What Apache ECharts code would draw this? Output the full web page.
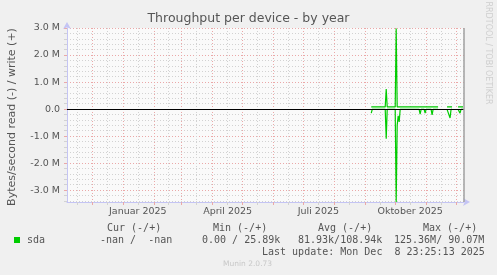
<!DOCTYPE html>
<html>
<head>
<meta charset="utf-8">
<script src="https://cdn.jsdelivr.net/npm/echarts@6/dist/echarts.min.js"></script>
<style>
html,body{margin:0;padding:0;background:#f0f0f0;}
#c{width:497px;height:275px;}
</style>
</head>
<body>
<div id="c"></div>
<script>
// ---- data ----
const rangeStart = '2024-11-06';
const rangeEnd = '2025-12-08 23:25:13';
const dates = ['2025-09-07','2025-09-08','2025-09-21','2025-09-22','2025-09-23','2025-10-01','2025-10-02','2025-10-03','2025-10-04','2025-10-05','2025-10-06','2025-10-25','2025-10-26','2025-10-27','2025-10-30','2025-10-31','2025-11-01','2025-11-06','2025-11-07','2025-11-08','2025-11-13','2025-11-14','2025-11-22','2025-11-24','2025-11-25','2025-11-26','2025-11-27','2025-11-28','2025-12-03','2025-12-04','2025-12-05','2025-12-06','2025-12-08'];
// write (+), MB/s
const writeM = [0.08,0.08,0.08,0.74,0.08,0.08,2.98,0.08,0.08,0.08,0.08,0.08,0.08,0.08,0.08,0.08,0.08,0.08,0.15,0.08,0.08,null,0.08,0.08,0.08,0.08,0.08,null,0.08,0.08,0.08,0.08,0.08];
// read (-), MB/s magnitude
const readM = [0.15,0.01,0.01,1.1,0.01,0.01,3.44,0.6,0.25,0.48,0.01,0.01,0.19,0.01,0.01,0.15,0.01,0.01,0.22,0.01,0.01,null,0.01,0.01,0.33,0.01,0.01,null,0.01,0.01,0.15,0.01,0.01];
const monthStarts = ['2024-12-01','2025-01-01','2025-02-01','2025-03-01','2025-04-01','2025-05-01','2025-06-01','2025-07-01','2025-08-01','2025-09-01','2025-10-01','2025-11-01','2025-12-01'];
const midMonths = ['2024-11-16','2024-12-16','2025-01-16','2025-02-16','2025-03-16','2025-04-16','2025-05-16','2025-06-16','2025-07-16','2025-08-16','2025-09-16','2025-10-16','2025-11-16'];
const xLabelDates = ['2025-01-16','2025-04-16','2025-07-16','2025-10-16'];
const xTickLabels = ['Januar 2025','April 2025','Juli 2025','Oktober 2025'];
const yMajor = [-3,-2,-1,0,1,2,3];
const yMinor = [-3.4,-3.2,-2.8,-2.6,-2.4,-2.2,-1.8,-1.6,-1.4,-1.2,-0.8,-0.6,-0.4,-0.2,0.2,0.4,0.6,0.8,1.2,1.4,1.6,1.8,2.2,2.4,2.6,2.8];
const yMin = -3.44, yMax = 3.0;
const legendRow = {name:'sda', cur:'-nan /  -nan', min:'0.00 / 25.89k', avg:'81.93k/108.94k', max:'125.36M/ 90.07M'};

// ---- chart ----
const T = s => echarts.time.parse(s).getTime();
const M = 1e6;
const tMin = T(rangeStart), tMax = T(rangeEnd);
const writeData = dates.map((d,i)=>[T(d), writeM[i]==null?null:writeM[i]*M]);
const readData = dates.map((d,i)=>[T(d), readM[i]==null?null:-readM[i]*M]);
const labelMap = {};
xLabelDates.forEach((d,i)=>{labelMap[T(d)] = xTickLabels[i];});

const font = 'DejaVu Sans';
const axisBlue = '#c4c4f4';
const majorCol = '#eaa8a8';
const minorCol = '#d2d2d2';
const txt = '#555';

function xAx(extra){
  return Object.assign({type:'value', min:tMin, max:tMax, position:'bottom', scale:true,
    axisLine:{show:false,onZero:false}, axisLabel:{show:false}, axisTick:{show:false}, splitLine:{show:false}}, extra);
}
function yAx(extra){
  return Object.assign({type:'value', min:yMin*M, max:yMax*M, position:'left',
    axisLine:{show:false,onZero:false}, axisLabel:{show:false}, axisTick:{show:false}, splitLine:{show:false}}, extra);
}

const chart = echarts.init(document.getElementById('c'), null, {renderer:'canvas'});
chart.setOption({
  animation:false,
  backgroundColor:'#f0f0f0',
  grid:{left:67,right:33,top:28,bottom:73,show:true,backgroundColor:'#fafafa',borderWidth:0},
  xAxis:[
    xAx({axisTick:{show:true,length:3,customValues:midMonths.map(T),lineStyle:{color:minorCol}},
         splitLine:{show:true,lineStyle:{color:minorCol,type:[1,2],width:1}}}),
    xAx({axisTick:{show:true,length:3,customValues:monthStarts.map(T),lineStyle:{color:majorCol}},
         splitLine:{show:true,lineStyle:{color:majorCol,type:[1,2],width:1}},
         axisLine:{show:true,onZero:false,symbol:['none','arrow'],symbolSize:[6,7],symbolOffset:[0,6],lineStyle:{color:axisBlue,width:1}}}),
    xAx({axisLabel:{show:true,customValues:xLabelDates.map(T),margin:5,color:txt,fontFamily:font,fontSize:9.5,
         formatter:(v)=>labelMap[v]||''}})
  ],
  yAxis:[
    yAx({axisTick:{show:true,length:3,customValues:yMinor.map(v=>v*M),lineStyle:{color:minorCol}},
         splitLine:{show:true,lineStyle:{color:minorCol,type:[1,2],width:1}}}),
    yAx({axisTick:{show:true,length:3,customValues:yMajor.map(v=>v*M),lineStyle:{color:majorCol}},
         splitLine:{show:true,lineStyle:{color:majorCol,type:[1,2],width:1}},
         axisLabel:{show:true,customValues:yMajor.map(v=>v*M),margin:7,color:txt,fontFamily:font,fontSize:9.5,
           formatter:(v)=> Math.abs(v)<1 ? '0.0' : (v/M).toFixed(1)+' M'},
         axisLine:{show:true,onZero:false,symbol:['none','arrow'],symbolSize:[6,7],symbolOffset:[0,6],lineStyle:{color:axisBlue,width:1}}})
  ],
  series:[
    {type:'line', name:legendRow.name, xAxisIndex:0, yAxisIndex:0, data:readData, showSymbol:false, connectNulls:false,
     lineStyle:{color:'#00cc00',width:1.2}, itemStyle:{color:'#00cc00'}, z:3},
    {type:'line', name:legendRow.name, xAxisIndex:0, yAxisIndex:0, data:writeData, showSymbol:false, connectNulls:false,
     lineStyle:{color:'#00cc00',width:1.2}, itemStyle:{color:'#00cc00'}, z:3,
     markLine:{silent:true, symbol:['none','none'], label:{show:false}, animation:false,
       data:[{yAxis:0, lineStyle:{color:'#000',width:1,type:'solid'}},
             {xAxis:tMax, lineStyle:{color:'#a0a0a0',width:1.5,type:'solid'}}]}}
  ],
  graphic:[
    {type:'text', left:'center', top:12, style:{text:'Throughput per device - by year', fill:txt, font:'12.5px "DejaVu Sans"'}},
    {type:'text', x:12, y:117, rotation:Math.PI/2, style:{text:'Bytes/second read (-) / write (+)', fill:txt, font:'11px "DejaVu Sans"', align:'center', verticalAlign:'middle'}},
    {type:'text', x:488, y:53, rotation:-Math.PI/2, style:{text:'RRDTOOL / TOBI OETIKER', fill:'#cfcfcf', font:'8px "DejaVu Sans"', align:'center', verticalAlign:'middle'}},
    {type:'text', x:107, y:228, style:{text:'Cur (-/+)', fill:txt, font:'10px "DejaVu Sans Mono"', verticalAlign:'middle'}},
    {type:'text', x:213, y:228, style:{text:'Min (-/+)', fill:txt, font:'10px "DejaVu Sans Mono"', verticalAlign:'middle'}},
    {type:'text', x:318, y:228, style:{text:'Avg (-/+)', fill:txt, font:'10px "DejaVu Sans Mono"', verticalAlign:'middle'}},
    {type:'text', x:423, y:228, style:{text:'Max (-/+)', fill:txt, font:'10px "DejaVu Sans Mono"', verticalAlign:'middle'}},
    {type:'rect', shape:{x:14,y:237,width:6,height:6}, style:{fill:'#00cc00'}},
    {type:'text', x:27, y:240, style:{text:legendRow.name, fill:txt, font:'10px "DejaVu Sans Mono"', verticalAlign:'middle'}},
    {type:'text', x:100, y:240, style:{text:legendRow.cur, fill:txt, font:'10px "DejaVu Sans Mono"', verticalAlign:'middle'}},
    {type:'text', x:202, y:240, style:{text:legendRow.min, fill:txt, font:'10px "DejaVu Sans Mono"', verticalAlign:'middle'}},
    {type:'text', x:298, y:240, style:{text:legendRow.avg, fill:txt, font:'10px "DejaVu Sans Mono"', verticalAlign:'middle'}},
    {type:'text', x:394, y:240, style:{text:legendRow.max, fill:txt, font:'10px "DejaVu Sans Mono"', verticalAlign:'middle'}},
    {type:'text', x:262, y:252, style:{text:'Last update: Mon Dec  8 23:25:13 2025', fill:txt, font:'10px "DejaVu Sans Mono"', verticalAlign:'middle'}},
    {type:'text', x:223, y:264, style:{text:'Munin 2.0.73', fill:'#c8c8c8', font:'7.5px "DejaVu Sans"', verticalAlign:'middle'}}
  ]
});
</script>
</body>
</html>
